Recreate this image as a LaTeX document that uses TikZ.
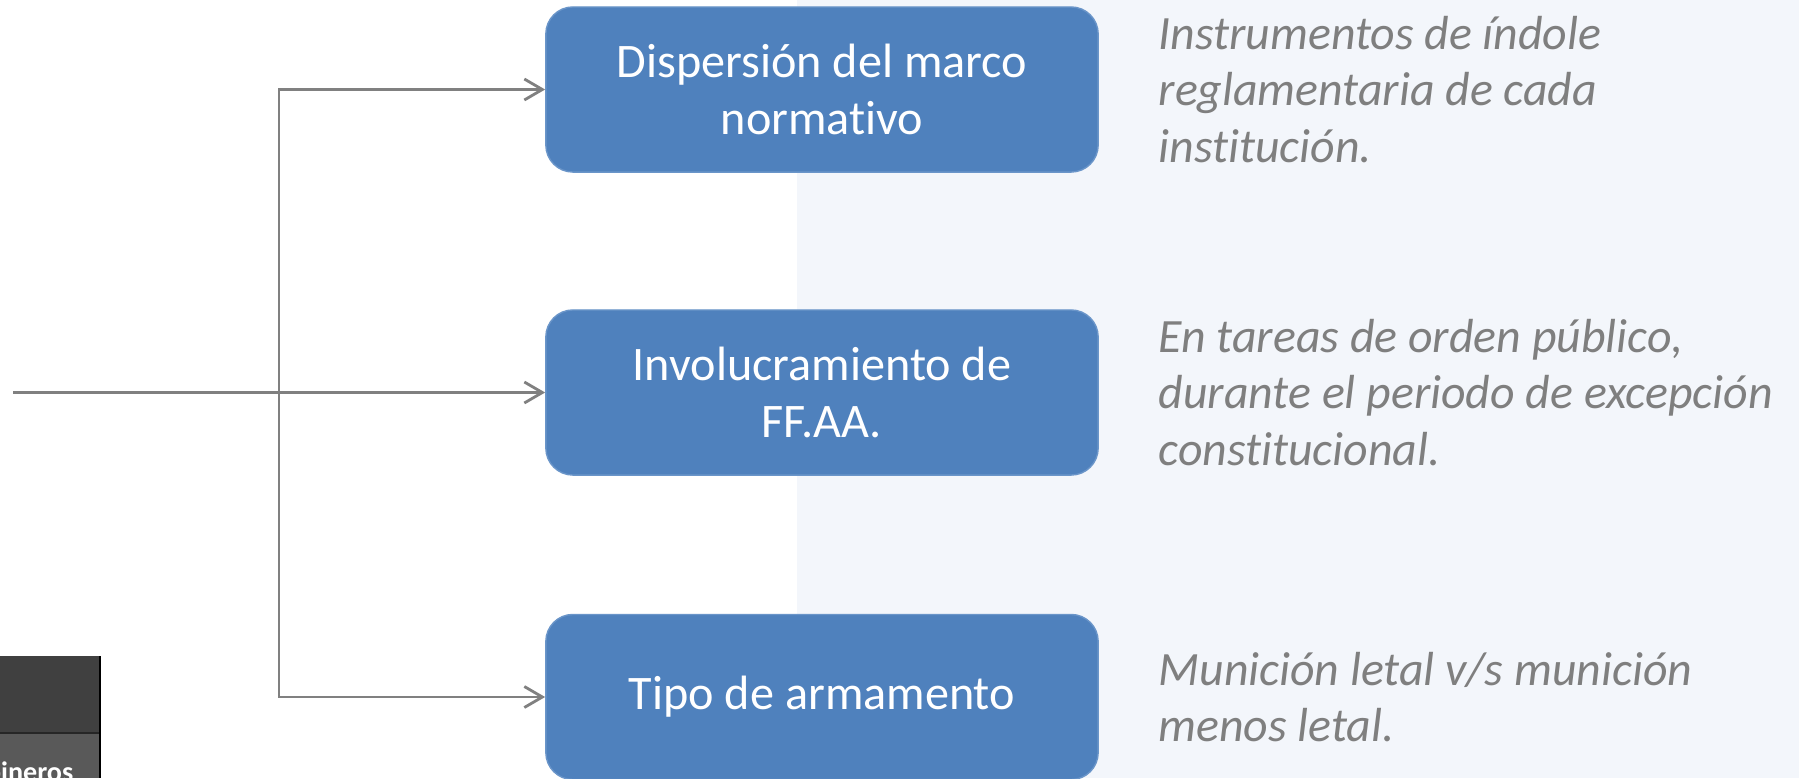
\documentclass[tikz,border=0pt]{standalone}
\usepackage{fontspec}
\setmainfont{Carlito}[RawFeature=-liga]
\usepackage{tikz}
\usetikzlibrary{calc,positioning}
\usetikzlibrary{arrows.meta}
\tikzset{>={Straight Barb[width=2.1mm,length=1.8mm]}}
\definecolor{boxblue}{HTML}{4F81BD}
\definecolor{boxedge}{HTML}{6A95C9}
\definecolor{bgright}{HTML}{F3F6FB}
\definecolor{notegray}{HTML}{7F7F7F}
\definecolor{linegray}{HTML}{808080}
\definecolor{tabdark}{HTML}{404040}
\definecolor{tablight}{HTML}{595959}
\definecolor{tabrule}{HTML}{262626}

\begin{document}
\begin{tikzpicture}[x=0.01cm,y=-0.01cm]
        \tikzstyle{cbox} = [fill=boxblue, draw=boxedge, line width=0.4pt, rounded corners=0.27cm, minimum width=5.52cm, minimum height=1.65cm, inner sep=0pt, align=center, text=white, font=\fontsize{13.7}{16.4}\selectfont]
        \tikzstyle{cnote} = [inner sep=0pt, align=left, text=notegray, font=\fontsize{13.6}{16.1}\selectfont\itshape]
        \tikzstyle{conn} = [draw=linegray, line width=0.8pt]

        \useasboundingbox (0,0) rectangle (1799,778);
        \fill[white] (0,0) rectangle (797,778);
        \fill[bgright] (797,0) rectangle (1799,778);

        % table corner, cut by the page
        \begin{scope}
        \clip (0,656) rectangle (101,778);
        \fill[tabdark] (0,656) rectangle (100,733);
        \fill[tablight] (0,733) rectangle (100,778);
        \draw[tabrule, line width=0.6pt] (0,733) -- (100,733);
        \draw[black, line width=0.4pt] (100,656) -- (100,778);
        \node[anchor=base east, inner sep=0pt, text=white, font=\bfseries\fontsize{8}{9.6}\selectfont] (carab) at (74,781) {Carabineros};
        \end{scope}

        \node[cbox] (disp) at (822,89.5) {Dispersión del marco\\normativo};
        \node[cbox] (invol) at (822,392.5) {Involucramiento de\\FF.AA.};
        \node[cbox] (arma) at (822,697) {Tipo de armamento};

        \node[cnote, right=0.59cm of disp] (ndisp) {Instrumentos de índole\\reglamentaria de cada\\institución.};
        \node[cnote, right=0.59cm of invol] (ninvol) {En tareas de orden público,\\durante el periodo de excepción\\constitucional.};
        \node[cnote, right=0.59cm of arma] (narma) {Munición letal v/s munición\\menos letal.};

        \coordinate (start) at (13,392.5);
        \coordinate (fork) at (279,392.5);
        \path[conn]
        (start) edge node {} (fork)
        (fork) edge[->, line cap=rect] node {} (invol.west)
        ;
        \draw[conn, ->] (fork) |- (disp.west);
        \draw[conn, ->] (fork) |- (arma.west);
\end{tikzpicture}
\end{document}
